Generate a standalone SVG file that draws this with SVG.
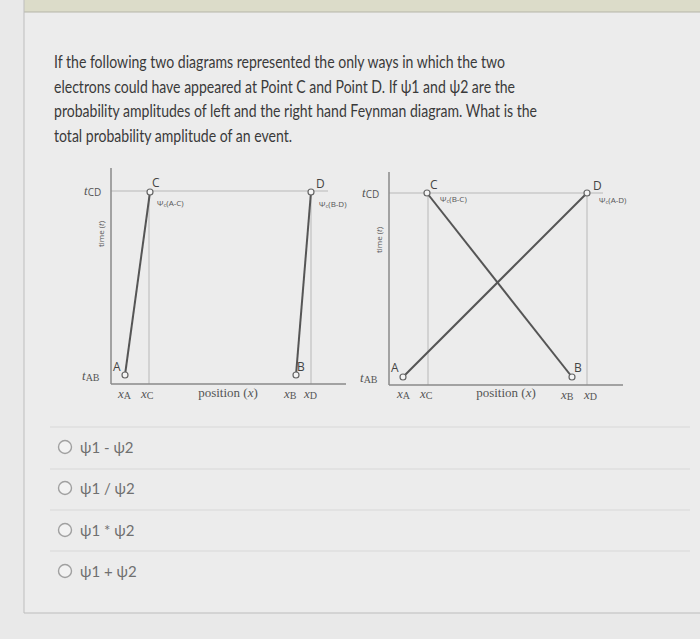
<svg xmlns="http://www.w3.org/2000/svg" width="700" height="639" viewBox="0 0 700 639">
<style>
.q{font-family:Lato,"Open Sans",sans-serif;font-size:17px;fill:#3a3a3a}
.opt{font-family:Lato,"Open Sans",sans-serif;font-size:15px;fill:#707070}
.ax{stroke:#8a8a8a;stroke-width:1.5;fill:none}
.grid{stroke:#b8b8b8;stroke-width:1;fill:none}
.path{stroke:#555;stroke-width:2;fill:none}
.pt{fill:#f4f4f4;stroke:#666;stroke-width:1.2}
.lab{font-family:"Open Sans",sans-serif;font-size:12px;fill:#444}
.ser{font-family:"Liberation Serif",serif;font-size:13px;fill:#555}
.small{font-family:"Open Sans",sans-serif;font-size:8px;fill:#555}
.sep{stroke:#d8d8d8;stroke-width:1}
.radio{fill:#f2f2f2;stroke:#a0a0a0;stroke-width:1.4}
</style>
<rect x="0" y="0" width="700" height="639" fill="#e9e9e9"/>
<rect x="24" y="0" width="676" height="12" fill="#dcdcc9"/>
<rect x="24" y="12" width="676" height="601" fill="#ececec"/>
<line x1="24" y1="12" x2="700" y2="12" stroke="#b5b5a8" stroke-width="1"/>
<line x1="24" y1="0" x2="24" y2="613" stroke="#bdbdbd" stroke-width="1"/>
<line x1="24" y1="613" x2="700" y2="613" stroke="#bdbdbd" stroke-width="1"/>

<g id="question">
<text class="q" x="54" y="68" textLength="451" lengthAdjust="spacingAndGlyphs">If the following two diagrams represented the only ways in which the two</text>
<text class="q" x="54" y="93" textLength="461" lengthAdjust="spacingAndGlyphs">electrons could have appeared at Point C and Point D. If ψ1 and ψ2 are the</text>
<text class="q" x="54" y="117" textLength="483" lengthAdjust="spacingAndGlyphs">probability amplitudes of left and the right hand Feynman diagram. What is the</text>
<text class="q" x="54" y="142" textLength="238" lengthAdjust="spacingAndGlyphs">total probability amplitude of an event.</text>
</g>

<g id="left-diagram">
<line class="grid" x1="111" y1="191" x2="328" y2="191"/>
<line class="grid" x1="149" y1="191" x2="149" y2="384"/>
<line class="grid" x1="311" y1="191" x2="311" y2="384"/>
<line class="ax" x1="111" y1="168" x2="111" y2="384"/>
<line class="ax" x1="111" y1="384" x2="346" y2="384"/>
<line class="path" x1="125" y1="375" x2="150" y2="192"/>
<line class="path" x1="296" y1="375" x2="311" y2="192"/>
<circle class="pt" cx="150" cy="192" r="3"/>
<circle class="pt" cx="311" cy="192" r="3"/>
<circle class="pt" cx="125" cy="375" r="3"/>
<circle class="pt" cx="296" cy="375" r="3"/>
<text class="lab" x="152" y="187">C</text>
<text class="lab" x="316" y="188">D</text>
<text class="lab" x="113" y="371">A</text>
<text class="lab" x="297" y="371">B</text>
<text class="small" x="157" y="206">Ψ<tspan font-size="6" dy="1">c</tspan><tspan dy="-1">(A-C)</tspan></text>
<text class="small" x="319" y="207">Ψ<tspan font-size="6" dy="1">c</tspan><tspan dy="-1">(B-D)</tspan></text>
<text class="ser" x="84" y="195"><tspan font-style="italic">t</tspan><tspan font-family="Open Sans,sans-serif" font-size="10" dy="1">CD</tspan></text>
<text class="ser" x="82" y="380"><tspan font-style="italic">t</tspan><tspan font-size="10" dy="1">AB</tspan></text>
<text class="small" font-size="10" transform="translate(104,234) rotate(-90)" text-anchor="middle">time (<tspan font-style="italic">t</tspan>)</text>
<text class="ser" x="118" y="398"><tspan font-style="italic">x</tspan><tspan font-size="10" dy="1">A</tspan></text>
<text class="ser" x="141" y="398"><tspan font-style="italic">x</tspan><tspan font-size="10" dy="1">C</tspan></text>
<text class="ser" x="228" y="397" text-anchor="middle">position (<tspan font-style="italic">x</tspan>)</text>
<text class="ser" x="284" y="398"><tspan font-style="italic">x</tspan><tspan font-size="10" dy="1">B</tspan></text>
<text class="ser" x="304" y="398"><tspan font-style="italic">x</tspan><tspan font-size="10" dy="1">D</tspan></text>
</g>

<g id="right-diagram">
<line class="grid" x1="389" y1="193" x2="603" y2="193"/>
<line class="grid" x1="428" y1="193" x2="428" y2="385"/>
<line class="grid" x1="587" y1="193" x2="587" y2="385"/>
<line class="ax" x1="389" y1="172" x2="389" y2="385"/>
<line class="ax" x1="389" y1="385" x2="623" y2="385"/>
<line class="path" x1="427" y1="193" x2="572" y2="377"/>
<line class="path" x1="403" y1="377" x2="587" y2="193"/>
<circle class="pt" cx="427" cy="193" r="3"/>
<circle class="pt" cx="587" cy="193" r="3"/>
<circle class="pt" cx="403" cy="377" r="3"/>
<circle class="pt" cx="572" cy="377" r="3"/>
<text class="lab" x="430" y="189">C</text>
<text class="lab" x="593" y="190">D</text>
<text class="lab" x="391" y="372">A</text>
<text class="lab" x="574" y="372">B</text>
<text class="small" x="440" y="202">Ψ<tspan font-size="6" dy="1">c</tspan><tspan dy="-1">(B-C)</tspan></text>
<text class="small" x="599" y="203">Ψ<tspan font-size="6" dy="1">c</tspan><tspan dy="-1">(A-D)</tspan></text>
<text class="ser" x="362" y="197"><tspan font-style="italic">t</tspan><tspan font-family="Open Sans,sans-serif" font-size="10" dy="1">CD</tspan></text>
<text class="ser" x="360" y="382"><tspan font-style="italic">t</tspan><tspan font-size="10" dy="1">AB</tspan></text>
<text class="small" font-size="10" transform="translate(382,240) rotate(-90)" text-anchor="middle">time (<tspan font-style="italic">t</tspan>)</text>
<text class="ser" x="397" y="398"><tspan font-style="italic">x</tspan><tspan font-size="10" dy="1">A</tspan></text>
<text class="ser" x="420" y="398"><tspan font-style="italic">x</tspan><tspan font-size="10" dy="1">C</tspan></text>
<text class="ser" x="506" y="397" text-anchor="middle">position (<tspan font-style="italic">x</tspan>)</text>
<text class="ser" x="561" y="399"><tspan font-style="italic">x</tspan><tspan font-size="10" dy="1">B</tspan></text>
<text class="ser" x="584" y="399"><tspan font-style="italic">x</tspan><tspan font-size="10" dy="1">D</tspan></text>
</g>

<g id="options">
<line class="sep" x1="50" y1="427" x2="690" y2="427"/>
<line class="sep" x1="50" y1="469" x2="690" y2="469"/>
<line class="sep" x1="50" y1="510" x2="690" y2="510"/>
<line class="sep" x1="50" y1="551" x2="690" y2="551"/>
<g id="opt1"><circle class="radio" cx="65" cy="447" r="6.5"/><text class="opt" x="80" y="453">ψ1 - ψ2</text></g>
<g id="opt2"><circle class="radio" cx="65" cy="488" r="6.5"/><text class="opt" x="80" y="494">ψ1 / ψ2</text></g>
<g id="opt3"><circle class="radio" cx="65" cy="530" r="6.5"/><text class="opt" x="80" y="536">ψ1 * ψ2</text></g>
<g id="opt4"><circle class="radio" cx="65" cy="571" r="6.5"/><text class="opt" x="80" y="577">ψ1 + ψ2</text></g>
</g>
</svg>
